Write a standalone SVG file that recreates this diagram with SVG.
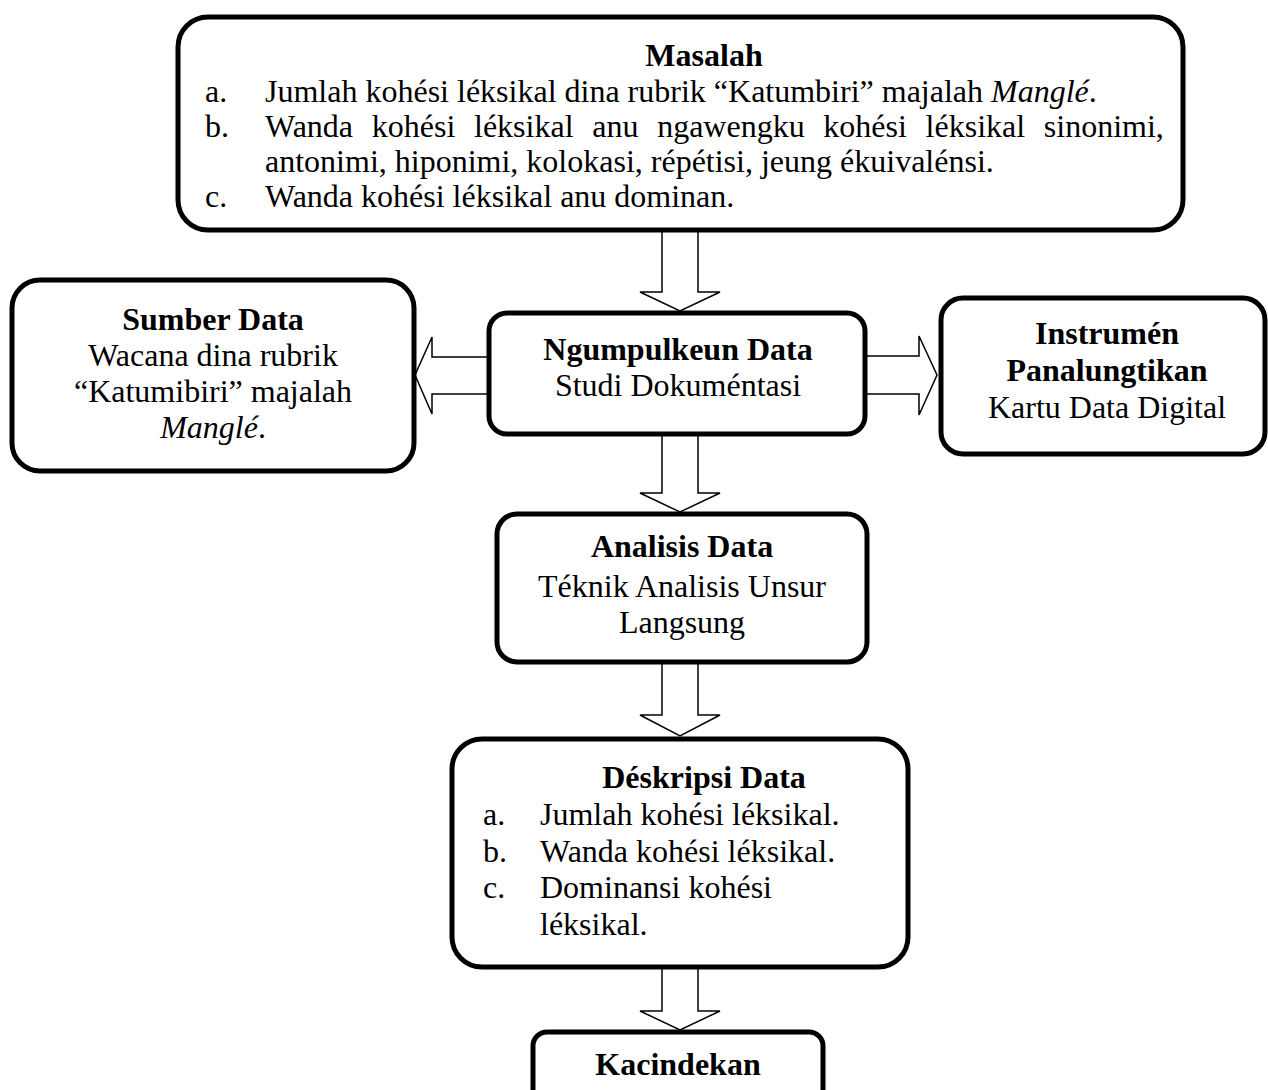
<svg xmlns="http://www.w3.org/2000/svg" width="1268" height="1090" viewBox="0 0 1268 1090">
<style>
.box{fill:#fff;stroke:#000;stroke-width:5}
.arr{fill:#fff;stroke:#000;stroke-width:1.5;stroke-linejoin:miter}
text{font-family:"Liberation Serif","Times New Roman",serif;font-size:32px;fill:#000}
.b{font-weight:bold}
.c{text-anchor:middle}
.i{font-style:italic}
</style>
<rect width="1268" height="1090" fill="#fff"/>
<g id="connectors">
<polygon class="arr" points="662,228 698,228 698,292 720,292 680,311 640,292 662,292"/>
<polygon class="arr" points="662,432 698,432 698,493 720,493 680,512 640,493 662,493"/>
<polygon class="arr" points="662,658 698,658 698,715 720,715 680,736 640,715 662,715"/>
<polygon class="arr" points="662,962 698,962 698,1011 720,1011 680,1030 640,1011 662,1011"/>
<polygon class="arr" points="492,357 432,357 432,337 415,375 432,414 432,394 492,394"/>
<polygon class="arr" points="860,356 919,356 919,336 937,375 919,415 919,394 860,394"/>
</g>
<g id="masalah">
<rect class="box" x="178" y="17" width="1005" height="213" rx="30"/>
<text class="b c" x="704" y="66">Masalah</text>
<text x="205" y="102">a.</text>
<text x="265" y="102">Jumlah kohési léksikal dina rubrik “Katumbiri” majalah <tspan class="i">Manglé</tspan>.</text>
<text x="205" y="137">b.</text>
<text x="265" y="137" word-spacing="10.7">Wanda kohési léksikal anu ngawengku kohési léksikal sinonimi,</text>
<text x="265" y="172">antonimi, hiponimi, kolokasi, répétisi, jeung ékuivalénsi.</text>
<text x="205" y="207">c.</text>
<text x="265" y="207">Wanda kohési léksikal anu dominan.</text>
</g>
<g id="sumber">
<rect class="box" x="12" y="280" width="402" height="191" rx="28"/>
<text class="b c" x="213" y="330">Sumber Data</text>
<text class="c" x="213" y="366">Wacana dina rubrik</text>
<text class="c" x="213" y="402">“Katumibiri” majalah</text>
<text class="c" x="213" y="438"><tspan class="i">Manglé</tspan>.</text>
</g>
<g id="ngumpulkeun">
<rect class="box" x="489" y="313" width="376" height="121" rx="18"/>
<text class="b c" x="678" y="360">Ngumpulkeun Data</text>
<text class="c" x="678" y="396">Studi Dokuméntasi</text>
</g>
<g id="instrumen">
<rect class="box" x="941" y="298" width="324" height="156" rx="22"/>
<text class="b c" x="1107" y="344">Instrumén</text>
<text class="b c" x="1107" y="381">Panalungtikan</text>
<text class="c" x="1107" y="418">Kartu Data Digital</text>
</g>
<g id="analisis">
<rect class="box" x="497" y="514" width="370" height="148" rx="20"/>
<text class="b c" x="682" y="557">Analisis Data</text>
<text class="c" x="682" y="597">Téknik Analisis Unsur</text>
<text class="c" x="682" y="633">Langsung</text>
</g>
<g id="deskripsi">
<rect class="box" x="452" y="739" width="456" height="228" rx="30"/>
<text class="b c" x="704" y="788">Déskripsi Data</text>
<text x="483" y="825">a.</text>
<text x="540" y="825">Jumlah kohési léksikal.</text>
<text x="483" y="862">b.</text>
<text x="540" y="862">Wanda kohési léksikal.</text>
<text x="483" y="898">c.</text>
<text x="540" y="898">Dominansi kohési</text>
<text x="540" y="935">léksikal.</text>
</g>
<g id="kacindekan">
<rect class="box" x="533" y="1032" width="290" height="90" rx="14"/>
<text class="b c" x="678" y="1075">Kacindekan</text>
</g>
</svg>
